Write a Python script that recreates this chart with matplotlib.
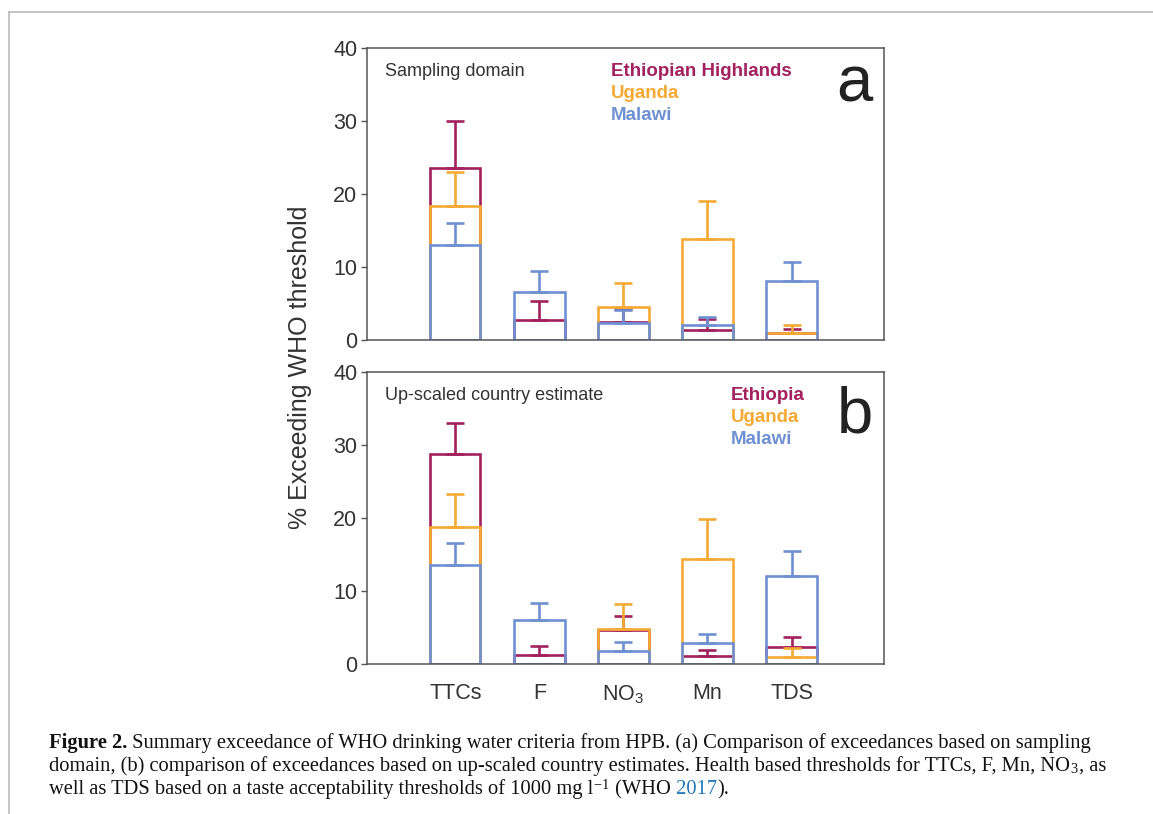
import numpy as np
import matplotlib
matplotlib.use("Agg")
import matplotlib.pyplot as plt
from matplotlib.lines import Line2D

plt.rcParams['font.family'] = ['Liberation Sans', 'DejaVu Sans']
plt.rcParams['mathtext.default'] = 'regular'

categories = ['TTCs', 'F', 'NO$_3$', 'Mn', 'TDS']

# panel a - sampling domain (bar value, top of error bar)
eth_a = [23.6, 2.7, 2.5, 1.4, 1.0]
eth_a_top = [30.0, 5.3, 4.2, 2.85, 1.5]
uga_a = [18.4, 0.0, 4.55, 13.8, 0.97]
uga_a_top = [23.0, 0.0, 7.8, 19.0, 2.07]
mal_a = [13.0, 6.6, 2.3, 2.1, 8.1]
mal_a_top = [16.0, 9.4, 4.1, 3.1, 10.7]

# panel b - up-scaled country estimate
eth_b = [28.7, 1.3, 4.6, 1.14, 2.37]
eth_b_top = [33.0, 2.5, 6.6, 1.9, 3.64]
uga_b = [18.7, 0.0, 4.78, 14.4, 0.96]
uga_b_top = [23.3, 0.0, 8.2, 19.8, 2.14]
mal_b = [13.6, 6.06, 1.78, 2.87, 12.0]
mal_b_top = [16.6, 8.4, 2.96, 4.1, 15.5]

c_eth = '#A2215E'
c_uga = '#F5AA35'
c_mal = '#6F91D2'

W, H = 1153, 814
fig = plt.figure(figsize=(W / 100, H / 100), dpi=100)

def fx(px):
    return px / W

def fy(py):
    return 1 - py / H

ax_a = fig.add_axes([fx(367), fy(340), fx(884) - fx(367), fy(48) - fy(340)])
ax_b = fig.add_axes([fx(367), fy(664), fx(884) - fx(367), fy(372) - fy(664)])

x = np.arange(len(categories))

def draw_panel(ax, series, title, names, letter, letter_y):
    z = 2
    for vals, tops, col in series:
        vals = np.array(vals)
        tops = np.array(tops)
        has = tops > vals
        ax.bar(x[has], vals[has], width=0.6, fill=False, edgecolor=col, linewidth=1.9, zorder=z)
        ax.errorbar(x[has], vals[has], yerr=[np.zeros(has.sum()), (tops - vals)[has]], fmt='none',
                    ecolor=col, elinewidth=1.9, capsize=6.5, capthick=1.9, zorder=z + 0.5)
        z += 1
    ax.set_xlim(-1.05, 5.1)
    ax.set_ylim(0, 40)
    ax.set_yticks([0, 10, 20, 30, 40])
    for s in ax.spines.values():
        s.set_color('#555555')
        s.set_linewidth(1.1)
        s.set_zorder(10)
    ax.tick_params(axis='y', direction='out', length=4, width=1, color='#555555',
                   labelsize=15.5, labelcolor='#333333', pad=3)
    ax.tick_params(axis='x', length=0, labelsize=15.5, labelcolor='#333333', pad=14)
    ax.text(0.035, 0.92, title, transform=ax.transAxes, fontsize=13, color='#333333',
            va='center', ha='left')
    for i, (name, col) in enumerate(names):
        ax.text(names_x[letter], 0.92 - i * 0.075, name, transform=ax.transAxes, fontsize=13.5,
                fontweight='bold', color=col, va='center', ha='left')
    ax.text(0.978, letter_y, letter, transform=ax.transAxes, fontsize=47, color='#222222',
            va='center', ha='right')

names_x = {'a': (611 - 367) / (884 - 367), 'b': (731 - 367) / (884 - 367)}

draw_panel(ax_a, [(eth_a, eth_a_top, c_eth), (uga_a, uga_a_top, c_uga), (mal_a, mal_a_top, c_mal)],
           'Sampling domain', [('Ethiopian Highlands', c_eth), ('Uganda', c_uga), ('Malawi', c_mal)],
           'a', 0.875)
draw_panel(ax_b, [(eth_b, eth_b_top, c_eth), (uga_b, uga_b_top, c_uga), (mal_b, mal_b_top, c_mal)],
           'Up-scaled country estimate', [('Ethiopia', c_eth), ('Uganda', c_uga), ('Malawi', c_mal)],
           'b', 0.85)

ax_a.set_xticks([])
ax_b.set_xticks(x)
ax_b.set_xticklabels(categories)

fig.text(fx(300), fy(367), '% Exceeding WHO threshold', rotation=90, fontsize=18,
         color='#333333', ha='center', va='center')

# page frame
fig.add_artist(Line2D([fx(9), 1], [fy(12), fy(12)], transform=fig.transFigure, color='#BBBBBB', lw=1.2))
fig.add_artist(Line2D([fx(9), fx(9)], [fy(12), 0], transform=fig.transFigure, color='#BBBBBB', lw=1.2))

# caption, pieces laid out one after another
renderer = fig.canvas.get_renderer()

def caption_line(py, pieces):
    xpos = fx(49)
    for txt, kw in pieces:
        opts = dict(family='Liberation Serif', fontsize=14.8, color='#111111',
                    va='baseline', ha='left')
        opts.update(kw)
        t = fig.text(xpos, fy(py), txt, **opts)
        bb = t.get_window_extent(renderer=renderer)
        xpos += bb.width / W

caption_line(748, [('Figure 2.', {'fontweight': 'bold'}),
                   (' Summary exceedance of WHO drinking water criteria from HPB. (a) Comparison of exceedances based on sampling', {})])
caption_line(771, [('domain, (b) comparison of exceedances based on up-scaled country estimates. Health based thresholds for TTCs, F, Mn, NO', {}),
                   ('$_3$', {}),
                   (', as', {})])
caption_line(794, [('well as TDS based on a taste acceptability thresholds of 1000 mg l', {}),
                   ('$^{-1}$', {}),
                   (' (WHO', {}),
                   (' 2017', {'color': '#2277BB'}),
                   (').', {})])

fig.savefig('out.png', dpi=100)
